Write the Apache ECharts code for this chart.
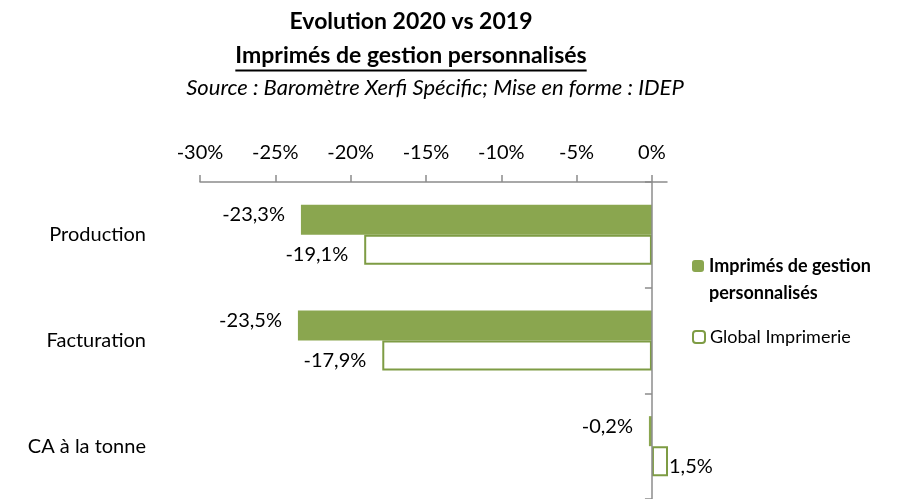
<!DOCTYPE html>
<html lang="fr">
<head>
<meta charset="UTF-8">
<script src="https://cdn.jsdelivr.net/npm/echarts@6/dist/echarts.min.js"></script>
<style>
  html, body { margin: 0; padding: 0; background: #fff; }
  #chart { width: 905px; height: 499px; }
</style>
</head>
<body>
<div id="chart"></div>
<script>
var categories = ['Production', 'Facturation', 'CA à la tonne'];
var imprimes = [-23.3, -23.5, -0.2];
var globalImp = [-19.1, -17.9, 1.5];
var tickValues = [-30, -25, -20, -15, -10, -5, 0];

var FONT = 'Lato';
var green = '#8aa64f';
var greenDark = '#7e9c44';
var subtitle = 'Imprimés de gestion personnalisés';

// largeur du sous-titre pour le soulignement
var ctx = document.createElement('canvas').getContext('2d');
ctx.font = 'bold 23px ' + FONT;
var subW = ctx.measureText(subtitle).width;

function pct(v) {
    return v.toFixed(1).replace('.', ',') + '%';
}
function withLabelPos(arr) {
    return arr.map(function (v) {
        return { value: v, label: v < 0 ? { position: 'left' } : { position: 'right', distance: 1 } };
    });
}

var chart = echarts.init(document.getElementById('chart'));
chart.setOption({
    animation: false,
    textStyle: { fontFamily: FONT, color: '#000' },
    title: [
        { text: 'Evolution 2020 vs 2019', left: 411, top: 9, textAlign: 'center', padding: 0,
          textStyle: { fontSize: 23, fontWeight: 'bold', lineHeight: 26, color: '#000', fontFamily: FONT } },
        { text: subtitle, left: 411, top: 43, textAlign: 'center', padding: 0,
          textStyle: { fontSize: 23, fontWeight: 'bold', lineHeight: 26, color: '#000', fontFamily: FONT } },
        { text: 'Source : Baromètre Xerfi Spécific; Mise en forme : IDEP', left: 435, top: 75, textAlign: 'center', padding: 0,
          textStyle: { fontSize: 22, fontStyle: 'italic', fontWeight: 'normal', lineHeight: 26, color: '#000', fontFamily: FONT } }
    ],
    graphic: [{
        type: 'line',
        shape: { x1: 411 - subW / 2, y1: 70.5, x2: 411 + subW / 2, y2: 70.5 },
        style: { stroke: '#000', lineWidth: 1.8 }
    }],
    legend: [
        { data: ['Imprimés de gestion personnalisés'], orient: 'vertical', left: 692, top: 266 - 40.5, padding: 0,
          itemWidth: 12, itemHeight: 12, itemGap: 0,
          formatter: function () { return '{s| }\n{a|Imprimés de gestion}\n{a|personnalisés}'; },
          textStyle: { fontSize: 18, fontWeight: 'bold', color: '#000', fontFamily: FONT,
                       rich: { s: { height: 27, lineHeight: 27, fontSize: 10 },
                               a: { fontSize: 18, fontWeight: 'bold', lineHeight: 27, height: 27, fontFamily: FONT } } } },
        { data: ['Global Imprimerie'], orient: 'vertical', left: 692, top: 327, padding: 0,
          itemWidth: 12, itemHeight: 12,
          textStyle: { fontSize: 18, lineHeight: 20, color: '#000', fontFamily: FONT } }
    ],
    grid: { left: 200, right: 238, top: 182, bottom: -2 },
    xAxis: {
        type: 'value',
        position: 'top',
        min: -30,
        max: 1,
        interval: 5,
        splitLine: { show: false },
        axisLine: { show: true, lineStyle: { color: '#8c8c8c', width: 1.5 } },
        axisTick: { show: true, length: 7, customValues: tickValues, lineStyle: { color: '#8c8c8c', width: 1.5 } },
        axisLabel: { customValues: tickValues, margin: 19, fontSize: 20, color: '#000', fontFamily: FONT,
                     formatter: function (v) { return v + '%'; } }
    },
    yAxis: [
        { type: 'category', data: categories, inverse: true, position: 'left',
          axisLine: { show: false, onZero: false },
          axisTick: { show: false },
          axisLabel: { margin: 54, fontSize: 20, color: '#000', fontFamily: FONT } },
        { type: 'category', data: categories, inverse: true, position: 'left', z: 5,
          axisLine: { show: true, onZero: true, lineStyle: { color: '#8c8c8c', width: 1.5 } },
          axisTick: { show: true, length: 7, lineStyle: { color: '#8c8c8c', width: 1.5 } },
          axisLabel: { show: false } }
    ],
    series: [
        { name: 'Imprimés de gestion personnalisés', type: 'bar', yAxisIndex: 0,
          data: withLabelPos(imprimes), barWidth: 30, barGap: '0%',
          itemStyle: { color: green },
          label: { show: true, distance: 16, offset: [0, -5], fontSize: 20, color: '#000', fontFamily: FONT,
                   formatter: function (p) { return pct(p.value); } } },
        { name: 'Global Imprimerie', type: 'bar', yAxisIndex: 0,
          data: withLabelPos(globalImp), barWidth: 30, barGap: '0%',
          itemStyle: { color: '#fff', borderColor: greenDark, borderWidth: 2 },
          label: { show: true, distance: 16, offset: [0, 5], fontSize: 20, color: '#000', fontFamily: FONT,
                   formatter: function (p) { return pct(p.value); } } }
    ]
});
</script>
</body>
</html>
